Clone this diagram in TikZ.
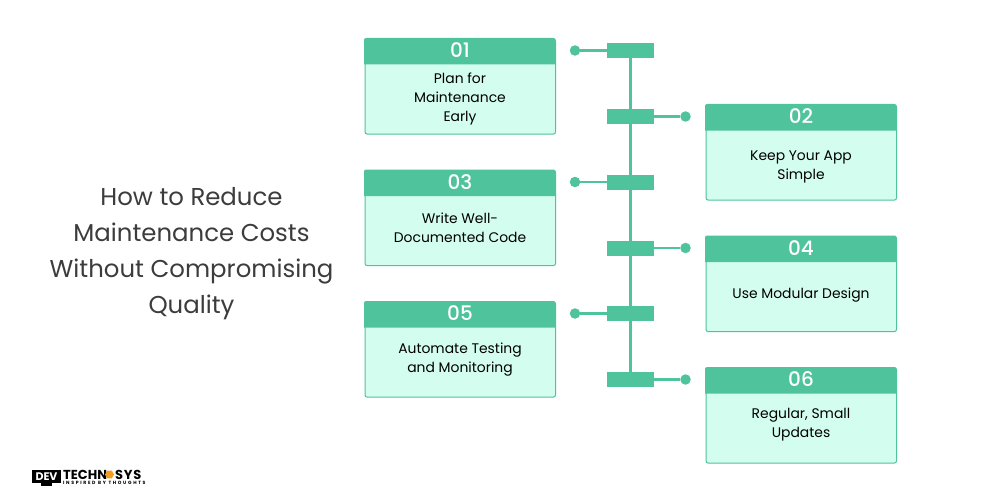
\documentclass[tikz,border=0pt]{standalone}
\usepackage{fontspec}
\usetikzlibrary{shapes.geometric}
\setmainfont{Poppins}
\newfontfamily\numfont{Poppins Medium}
\definecolor{grn}{HTML}{4FC39B}
\definecolor{mint}{HTML}{D3FDEF}
\definecolor{ttl}{HTML}{3C3C3C}
\definecolor{amber}{HTML}{F39C1F}
\tikzset{
  x=1pt,y=-1pt,
  card/.style={draw=grn,fill=mint,line width=1pt,rounded corners=2pt,minimum width=190.5pt,minimum height=95pt,anchor=north west,inner sep=0pt},
  bodytext/.style={text=black,align=center,font=\fontsize{13.9}{19}\selectfont},
  numtext/.style={text=white,font=\numfont\fontsize{20}{20}\selectfont,text height=14pt,text depth=0pt,inner sep=0pt},
  slot/.style={fill=grn,minimum width=47pt,minimum height=15pt,inner sep=0pt},
  dot/.style={fill=grn,circle,minimum size=10.5pt,inner sep=0pt},
  link/.style={draw=grn,line width=2.4pt},
  titletext/.style={text=ttl,align=center,font=\fontsize{24.4}{36}\selectfont},
  logobig/.style={anchor=base west,inner sep=0pt,text=black,text height=9pt,text depth=0pt,font=\fontsize{13}{9}\selectfont\bfseries},
  logosmall/.style={anchor=base west,inner sep=0pt,text=black,text height=3pt,text depth=0pt,font=\fontsize{4.6}{4}\selectfont\bfseries\addfontfeature{LetterSpace=36}}
}
\newcommand{\cardat}[6]{% name, x, y, number, body, body y-offset
  \node[card] (c#1) at (#2,#3) {};
  \fill[grn,rounded corners=2pt] (#2-0.5,#3+26) [sharp corners] -- (#2-0.5,#3+5) [rounded corners=2pt] -- (#2-0.5,#3-0.5) -- (#2+191,#3-0.5) -- (#2+191,#3+5) [sharp corners] -- (#2+191,#3+26) -- cycle;
  \node[numtext] (n#1) at (#2+95.5,#3+12) {#4};
  \node[bodytext] (t#1) at (#2+95.5,#3+#6) {#5};
}
\begin{document}
\begin{tikzpicture}
\useasboundingbox (0,0) rectangle (1000,500);
\fill[white] (0,0) rectangle (1000,500);
\node[titletext] (title) at (191.5,254) {How to Reduce\\Maintenance Costs\\Without Compromising\\Quality};
\cardat{1}{364.5}{38.5}{01}{Plan for\\Maintenance\\Early}{60}
\cardat{2}{705.5}{104.5}{02}{Keep Your App\\Simple}{62}
\cardat{3}{364.5}{170}{03}{Write Well-\\Documented Code}{58}
\cardat{4}{705.5}{236}{04}{Use Modular Design}{59}
\cardat{5}{364.5}{301.5}{05}{Automate Testing\\and Monitoring}{58}
\cardat{6}{705.5}{367.5}{06}{Regular, Small\\Updates}{57}
\node[slot] (s1) at (630.5,50.5) {};
\node[slot] (s2) at (630.5,116.5) {};
\node[slot] (s3) at (630.5,182) {};
\node[slot] (s4) at (630.5,248) {};
\node[slot] (s5) at (630.5,313.5) {};
\node[slot] (s6) at (630.5,379.5) {};
\node[dot] (d1) at (575,50.5) {};
\node[dot] (d2) at (685.5,116.5) {};
\node[dot] (d3) at (575,182) {};
\node[dot] (d4) at (685.5,248) {};
\node[dot] (d5) at (575,313.5) {};
\node[dot] (d6) at (685.5,379.5) {};
\draw[link] (s1.center) -- (s6.center);
\draw[link] (d1) -- (s1);
\draw[link] (s2) -- (d2);
\draw[link] (d3) -- (s3);
\draw[link] (s4) -- (d4);
\draw[link] (d5) -- (s5);
\draw[link] (s6) -- (d6);
% logo
\fill[black] (32,470) rectangle (61,483);
\fill[black] (41,483) rectangle (52,486);
\node[text=white,inner sep=0pt,font=\fontsize{11}{9}\selectfont\bfseries] (lgd) at (46.5,476.5) {DEV};
\node[logobig] (lg1) at (63,479) {TECHN};
\node[regular polygon,regular polygon sides=6,fill=amber,minimum size=9pt,inner sep=0pt] (lg2) at (109.5,474.5) {};
\node[logobig] (lg3) at (115,479) {\addfontfeature{LetterSpace=6}SYS};
\node[logosmall] (lg4) at (63,484.5) {INSPIRED BY THOUGHTS};
\end{tikzpicture}
\end{document}
